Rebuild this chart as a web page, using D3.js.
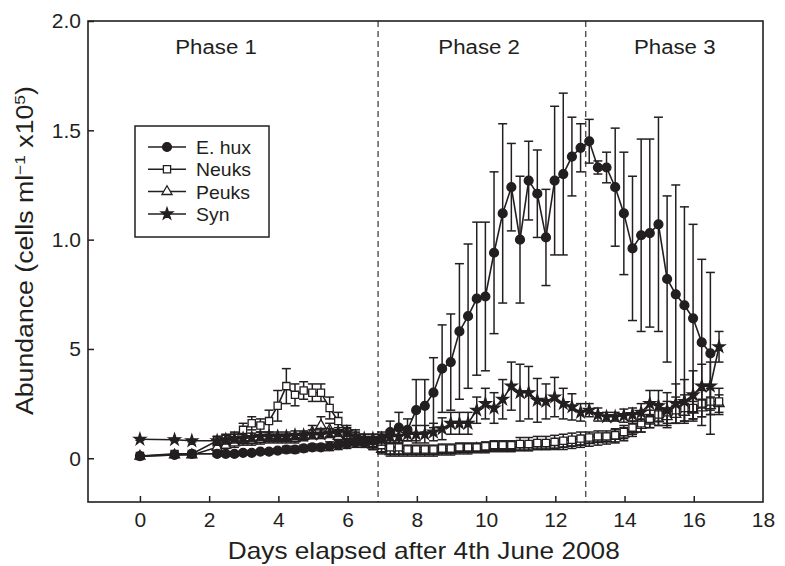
<!DOCTYPE html>
<html>
<head>
<meta charset="utf-8">
<script src="https://cdn.jsdelivr.net/npm/d3@7"></script>
<style>
  body { margin: 0; background: #fff; }
  text { font-family: "Liberation Sans", Arial, sans-serif; fill: #231f20; }
</style>
</head>
<body>
<div id="chart"></div>
<script>
// sampling times (days elapsed after 4th June 2008)
const days = [0, 1, 1.5, 2.23, 2.48, 2.73, 2.98, 3.23, 3.48, 3.73, 3.98, 4.23, 4.48, 4.73, 4.98,
  5.23, 5.48, 5.73, 5.98, 6.23, 6.48, 6.73, 6.98, 7.23, 7.48, 7.73, 7.98, 8.23, 8.48, 8.73, 8.98,
  9.23, 9.48, 9.73, 9.98, 10.23, 10.48, 10.73, 10.98, 11.23, 11.48, 11.73, 11.98, 12.23, 12.48,
  12.73, 12.98, 13.23, 13.48, 13.73, 13.98, 14.23, 14.48, 14.73, 14.98, 15.23, 15.48, 15.73,
  15.98, 16.23, 16.48, 16.73];

// abundances (x10^5 cells per ml) and error bars
const ehux = [0.01, 0.015, 0.02, 0.02, 0.02, 0.02, 0.025, 0.025, 0.03, 0.03, 0.035, 0.04, 0.04, 0.045,
  0.05, 0.05, 0.055, 0.06, 0.065, 0.07, 0.07, 0.08, 0.09,
  0.12, 0.14, 0.13, 0.22, 0.24, 0.30, 0.41, 0.44, 0.58, 0.65, 0.73, 0.74, 0.94, 1.12, 1.24, 1.00,
  1.27, 1.21, 1.01, 1.27, 1.30, 1.38, 1.42, 1.45, 1.33, 1.33, 1.24, 1.12, 0.96, 1.02, 1.03, 1.07,
  0.82, 0.75, 0.70, 0.64, 0.53, 0.48, null];
const ehuxErr = [0.005, 0.005, 0.005, 0.01, 0.01, 0.01, 0.01, 0.01, 0.01, 0.01, 0.01, 0.015, 0.015,
  0.015, 0.015, 0.015, 0.02, 0.02, 0.02, 0.02, 0.02, 0.03, 0.03,
  0.05, 0.07, 0.05, 0.14, 0.12, 0.16, 0.20, 0.22, 0.31, 0.33, 0.35, 0.34, 0.37, 0.41, 0.20, 0.29,
  0.18, 0.20, 0.22, 0.34, 0.37, 0.18, 0.11, 0.10, 0.03, 0.07, 0.27, 0.28, 0.33, 0.44, 0.43, 0.49,
  0.38, 0.50, 0.45, 0.43, 0.38, 0.37, null];

const neuks = [0.01, 0.02, 0.02, 0.08, 0.09, 0.10, 0.13, 0.16, 0.15, 0.17, 0.24, 0.33, 0.29, 0.31,
  0.30, 0.30, 0.23, 0.17, 0.12, 0.10, 0.08, 0.07, 0.06,
  0.05, 0.05, 0.04, 0.04, 0.04, 0.04, 0.045, 0.045, 0.05, 0.05, 0.05, 0.055, 0.06, 0.06, 0.06,
  0.065, 0.065, 0.07, 0.07, 0.075, 0.08, 0.085, 0.09, 0.095, 0.10, 0.10, 0.105, 0.12, 0.14, 0.16,
  0.18, 0.20, 0.21, 0.22, 0.23, 0.23, 0.25, 0.26, 0.26];
const neuksErr = [0.005, 0.005, 0.005, 0.02, 0.02, 0.02, 0.03, 0.03, 0.03, 0.05, 0.07, 0.08, 0.05,
  0.04, 0.04, 0.04, 0.05, 0.04, 0.03, 0.03, 0.03, 0.03, 0.03,
  0.03, 0.03, 0.02, 0.02, 0.02, 0.02, 0.02, 0.02, 0.02, 0.02, 0.02, 0.02, 0.02, 0.02, 0.02, 0.03,
  0.03, 0.03, 0.03, 0.03, 0.03, 0.03, 0.03, 0.025, 0.025, 0.025, 0.03, 0.03, 0.03, 0.04, 0.04,
  0.05, 0.05, 0.06, 0.06, 0.06, 0.06, 0.06, 0.06];

const peuks = [0.01, 0.015, 0.015, 0.05, 0.06, 0.07, 0.08, 0.08, 0.085, 0.09, 0.09, 0.09, 0.09, 0.10,
  0.12, 0.15, 0.13, 0.10, 0.09, 0.09, 0.08, 0.06, 0.04,
  0.03, 0.03, 0.03, 0.03, 0.03, 0.03, 0.035, 0.035, 0.04, 0.04, 0.045, 0.045, 0.05, 0.05, 0.05,
  0.055, 0.055, 0.06, 0.06, 0.06, 0.065, 0.07, 0.075, 0.08, 0.085, 0.09, 0.10, 0.11, 0.13, 0.15,
  0.17, 0.18, 0.19, 0.20, 0.21, 0.22, 0.23, 0.24, 0.25];
const peuksErr = [0.005, 0.005, 0.005, 0.015, 0.015, 0.02, 0.02, 0.02, 0.02, 0.02, 0.02, 0.02, 0.02,
  0.02, 0.03, 0.04, 0.03, 0.03, 0.02, 0.02, 0.02, 0.02, 0.02,
  0.02, 0.02, 0.02, 0.02, 0.02, 0.02, 0.02, 0.02, 0.02, 0.02, 0.02, 0.02, 0.02, 0.02, 0.02, 0.02,
  0.02, 0.02, 0.02, 0.02, 0.025, 0.025, 0.025, 0.025, 0.025, 0.025, 0.03, 0.03, 0.03, 0.03, 0.03,
  0.03, 0.04, 0.04, 0.04, 0.04, 0.04, 0.04, 0.04];

const syn = [0.087, 0.085, 0.08, 0.08, 0.085, 0.09, 0.09, 0.095, 0.10, 0.10, 0.10, 0.10, 0.105,
  0.105, 0.11, 0.11, 0.115, 0.12, 0.12, 0.10, 0.09, 0.09, 0.09,
  0.10, 0.10, 0.11, 0.11, 0.11, 0.12, 0.135, 0.16, 0.16, 0.16, 0.22, 0.25, 0.23, 0.27, 0.33, 0.30,
  0.30, 0.265, 0.26, 0.28, 0.25, 0.235, 0.21, 0.22, 0.20, 0.19, 0.19, 0.195, 0.20, 0.21, 0.25,
  0.24, 0.22, 0.25, 0.26, 0.29, 0.33, 0.33, 0.51];
const synErr = [0.005, 0.005, 0.005, 0.02, 0.02, 0.02, 0.02, 0.02, 0.02, 0.02, 0.02, 0.02, 0.02,
  0.02, 0.02, 0.02, 0.02, 0.02, 0.02, 0.02, 0.02, 0.02, 0.02,
  0.03, 0.03, 0.03, 0.04, 0.04, 0.04, 0.05, 0.05, 0.05, 0.05, 0.06, 0.07, 0.07, 0.09, 0.11, 0.13,
  0.12, 0.10, 0.08, 0.09, 0.07, 0.06, 0.04, 0.03, 0.03, 0.02, 0.02, 0.03, 0.03, 0.04, 0.06, 0.07,
  0.08, 0.09, 0.10, 0.11, 0.10, 0.11, 0.07];

const seriesNames = ["E. hux", "Neuks", "Peuks", "Syn"];
const phaseBreaks = [6.88, 12.88];
const phaseLabels = ["Phase 1", "Phase 2", "Phase 3"];
const phaseLabelDays = [2.2, 9.8, 15.45];
const xTicks = [0, 2, 4, 6, 8, 10, 12, 14, 16, 18];
const yTicks = [0, 0.5, 1.0, 1.5, 2.0];
const yTickLabels = ["0", "5", "1.0", "1.5", "2.0"];

const width = 785, height = 566;
const margin = { top: 21, right: 22, bottom: 64, left: 88 };
const plotW = width - margin.left - margin.right;
const plotH = height - margin.top - margin.bottom;
const ink = "#231f20";

const svg = d3.select("#chart").append("svg")
  .attr("width", width)
  .attr("height", height);

const g = svg.append("g")
  .attr("transform", "translate(" + margin.left + "," + margin.top + ")");

const x = d3.scaleLinear().domain([-1.5, 18]).range([0, plotW]);
const y = d3.scaleLinear().domain([-0.2, 2.0]).range([plotH, 0]);

// axes with inward ticks
const xAxis = g.append("g")
  .attr("transform", "translate(0," + plotH + ")")
  .call(d3.axisBottom(x).tickValues(xTicks).tickFormat(d3.format("d"))
    .tickSizeInner(-6).tickSizeOuter(0).tickPadding(10));
const yAxis = g.append("g")
  .call(d3.axisLeft(y).tickValues(yTicks).tickFormat((d, i) => yTickLabels[i])
    .tickSizeInner(-6).tickSizeOuter(0).tickPadding(7));

[xAxis, yAxis].forEach(a => {
  a.select(".domain").remove();
  a.selectAll(".tick line").attr("stroke", ink).attr("stroke-width", 1.5);
  a.selectAll(".tick text").style("font-size", "21px").attr("fill", ink)
    .style("font-family", "'Liberation Sans', Arial, sans-serif");
});
xAxis.selectAll(".tick").filter(d => d === 18).select("line").remove();

// frame
g.append("rect")
  .attr("width", plotW)
  .attr("height", plotH)
  .attr("fill", "none")
  .attr("stroke", ink)
  .attr("stroke-width", 1.6);

// phase separators
g.selectAll(".phase-line")
  .data(phaseBreaks)
  .enter().append("line")
  .attr("class", "phase-line")
  .attr("x1", d => x(d)).attr("x2", d => x(d))
  .attr("y1", 0).attr("y2", plotH)
  .attr("stroke", ink)
  .attr("stroke-width", 1.1)
  .attr("stroke-dasharray", "6,4");

g.selectAll(".phase-label")
  .data(phaseLabels)
  .enter().append("text")
  .attr("class", "phase-label")
  .attr("transform", (d, i) => "translate(" + x(phaseLabelDays[i]) + ",33) scale(1.06,1)")
  .attr("text-anchor", "middle")
  .style("font-size", "21px")
  .text(d => d);

// series setup
const symbolTypes = [d3.symbolCircle, d3.symbolSquare, d3.symbolTriangle, d3.symbolStar];
const symbolSizes = [62, 52, 44, 42];
const symbolFills = [ink, "#fff", "#fff", ink];
const values = [ehux, neuks, peuks, syn];
const errors = [ehuxErr, neuksErr, peuksErr, synErr];

const series = seriesNames.map((name, s) => ({
  name: name,
  symbol: d3.symbol().type(symbolTypes[s]).size(symbolSizes[s]),
  fill: symbolFills[s],
  points: days.map((d, i) => ({ day: d, v: values[s][i], e: errors[s][i] }))
    .filter(p => p.v !== null)
}));

const line = d3.line()
  .x(p => x(p.day))
  .y(p => y(p.v));

const capW = 4.5;
// draw back to front: Peuks, Neuks, Syn, E. hux
[2, 1, 3, 0].forEach(s => {
  const sr = series[s];
  const sg = g.append("g").attr("class", "series");

  const bars = sg.selectAll(".err")
    .data(sr.points)
    .enter().append("g")
    .attr("class", "err")
    .attr("stroke", ink)
    .attr("stroke-width", 1.5);
  bars.append("line")
    .attr("x1", p => x(p.day)).attr("x2", p => x(p.day))
    .attr("y1", p => y(p.v - p.e)).attr("y2", p => y(p.v + p.e));
  bars.append("line")
    .attr("x1", p => x(p.day) - capW).attr("x2", p => x(p.day) + capW)
    .attr("y1", p => y(p.v + p.e)).attr("y2", p => y(p.v + p.e));
  bars.append("line")
    .attr("x1", p => x(p.day) - capW).attr("x2", p => x(p.day) + capW)
    .attr("y1", p => y(p.v - p.e)).attr("y2", p => y(p.v - p.e));

  sg.append("path")
    .datum(sr.points)
    .attr("fill", "none")
    .attr("stroke", ink)
    .attr("stroke-width", 1.6)
    .attr("d", line);

  sg.selectAll(".mark")
    .data(sr.points)
    .enter().append("path")
    .attr("class", "mark")
    .attr("transform", p => "translate(" + x(p.day) + "," + y(p.v) + ")")
    .attr("d", sr.symbol)
    .attr("fill", sr.fill)
    .attr("stroke", ink)
    .attr("stroke-width", 1.3);
});

// legend
const legend = svg.append("g").attr("transform", "translate(135,126)");
legend.append("rect")
  .attr("width", 134)
  .attr("height", 111)
  .attr("fill", "#fff")
  .attr("stroke", ink)
  .attr("stroke-width", 1.5);

const item = legend.selectAll(".item")
  .data(series)
  .enter().append("g")
  .attr("class", "item")
  .attr("transform", (d, i) => "translate(0," + (21 + i * 22.3) + ")");
item.append("line")
  .attr("x1", 13).attr("x2", 51)
  .attr("stroke", ink)
  .attr("stroke-width", 1.5);
item.append("path")
  .attr("transform", "translate(32,0)")
  .attr("d", d => d.symbol())
  .attr("fill", d => d.fill)
  .attr("stroke", ink)
  .attr("stroke-width", 1.3);
item.append("text")
  .attr("transform", "translate(61,7) scale(1.08,1)")
  .style("font-size", "18px")
  .text(d => d.name);

// axis titles (the original face is a little wider than Liberation Sans)
svg.append("text")
  .attr("transform", "translate(" + (margin.left + x(8.2)) + ",559) scale(1.14,1)")
  .attr("text-anchor", "middle")
  .style("font-size", "23px")
  .text("Days elapsed after 4th June 2008");

const yTitle = svg.append("text")
  .attr("transform", "translate(33," + (margin.top + y(0.95)) + ") rotate(-90) scale(1.16,1)")
  .attr("text-anchor", "middle")
  .style("font-size", "23px");
yTitle.append("tspan").text("Abundance (cells ml");
yTitle.append("tspan").attr("dy", -8).style("font-size", "15px").text("\u22121");
yTitle.append("tspan").attr("dy", 8).text(" x10");
yTitle.append("tspan").attr("dy", -8).style("font-size", "15px").text("5");
yTitle.append("tspan").attr("dy", 8).text(")");
</script>
</body>
</html>
